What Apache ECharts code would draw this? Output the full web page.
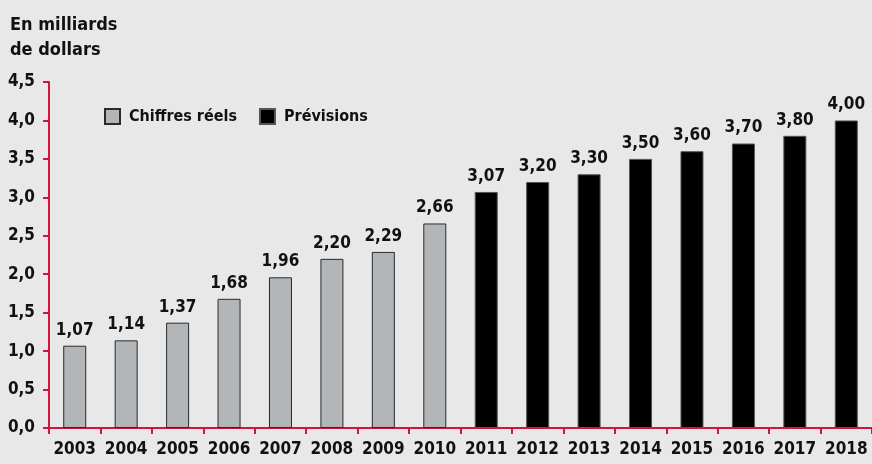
<!DOCTYPE html>
<html>
<head>
<meta charset="utf-8">
<script src="https://cdn.jsdelivr.net/npm/echarts@6/dist/echarts.min.js"></script>
<style>
html,body{margin:0;padding:0;background:#e8e8e8;}
#chart{width:872px;height:464px;}
</style>
</head>
<body>
<div id="chart"></div>
<script>
// Years on the category axis
const years = ['2003','2004','2005','2006','2007','2008','2009','2010','2011','2012','2013','2014','2015','2016','2017','2018'];
// Actual figures (billions of dollars), 2003-2010
const actualValues = [1.07, 1.14, 1.37, 1.68, 1.96, 2.20, 2.29, 2.66, null, null, null, null, null, null, null, null];
// Forecasts, 2011-2018
const forecastValues = [null, null, null, null, null, null, null, null, 3.07, 3.20, 3.30, 3.50, 3.60, 3.70, 3.80, 4.00];
// Y axis range
const yMin = 0, yMax = 4.5, yStep = 0.5;

const FONT = '"DejaVu Sans Condensed", "Liberation Sans Narrow", sans-serif';
const RED = '#d2153e';
const comma = v => v.toFixed(2).replace('.', ',');

const chart = echarts.init(document.getElementById('chart'));
const labelStyle = {
  show: true, position: 'top', distance: 7,
  fontFamily: FONT, fontWeight: 'bold', fontSize: 17, color: '#111',
  formatter: p => comma(p.value)
};
chart.setOption({
  backgroundColor: '#e8e8e8',
  animation: false,
  title: {
    text: 'En milliards\nde dollars',
    left: 5, top: 8,
    textStyle: { fontFamily: FONT, fontWeight: 'bold', fontSize: 18, color: '#111', lineHeight: 25 }
  },
  legend: {
    left: 99, top: 103,
    itemWidth: 15, itemHeight: 15, itemGap: 22,
    icon: 'rect',
    textStyle: { fontFamily: FONT, fontWeight: 'bold', fontSize: 16, color: '#111', padding: [0, 0, 0, 4] },
    data: ['Chiffres réels', 'Prévisions']
  },
  grid: { left: 49, right: 0, top: 82, bottom: 36, containLabel: false },
  xAxis: {
    type: 'category',
    data: years,
    boundaryGap: true,
    axisLine: { lineStyle: { color: RED, width: 2 } },
    axisTick: { show: true, length: 6, lineStyle: { color: RED, width: 2 } },
    axisLabel: { interval: 0, fontFamily: FONT, fontWeight: 'bold', fontSize: 17, color: '#111', margin: 13 }
  },
  yAxis: {
    type: 'value',
    min: yMin, max: yMax, interval: yStep,
    axisLine: { show: true, lineStyle: { color: RED, width: 2 } },
    axisTick: { show: true, length: 6, lineStyle: { color: RED, width: 2 } },
    splitLine: { show: false },
    axisLabel: {
      fontFamily: FONT, fontWeight: 'bold', fontSize: 17, color: '#111', margin: 14,
      formatter: v => v.toFixed(1).replace('.', ',')
    }
  },
  series: [
    {
      name: 'Chiffres réels', type: 'bar', data: actualValues,
      barWidth: 23, barGap: '-100%',
      itemStyle: { color: '#b3b6b9', borderColor: '#2a2a2a', borderWidth: 1 },
      label: labelStyle
    },
    {
      name: 'Prévisions', type: 'bar', data: forecastValues,
      barWidth: 23,
      itemStyle: { color: '#000000', borderColor: '#555', borderWidth: 1 },
      label: labelStyle
    }
  ]
});
</script>
</body>
</html>
